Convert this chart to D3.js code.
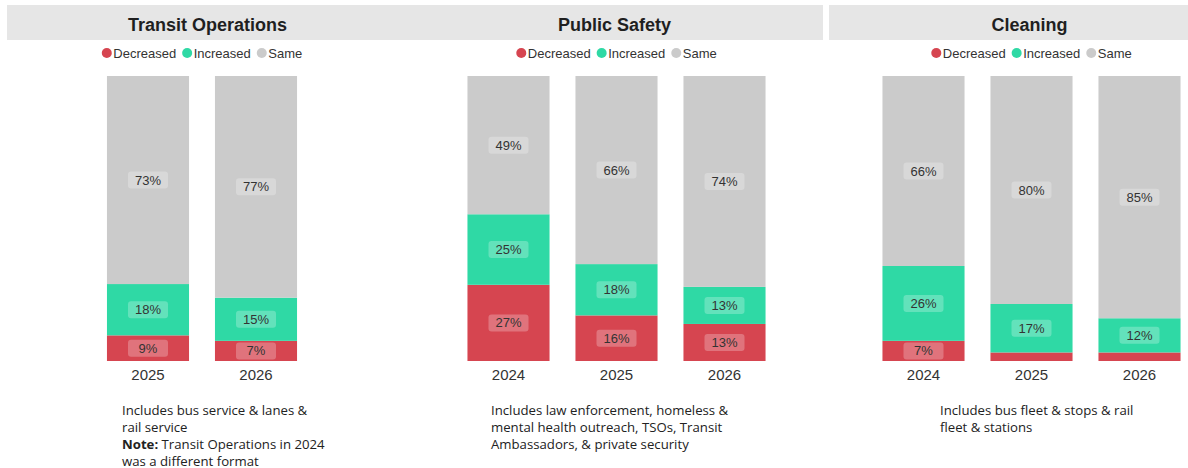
<!DOCTYPE html>
<html>
<head>
<meta charset="utf-8">
<script src="https://cdn.jsdelivr.net/npm/d3@7"></script>
<style>
  html, body { margin: 0; padding: 0; background: #fff; }
  svg { display: block; }
</style>
</head>
<body>
<div id="chart"></div>
<script>
// series / categories
const seriesKeys = ["Decreased", "Increased", "Same"];
const panelTitles = ["Transit Operations", "Public Safety", "Cleaning"];

const transitYears = ["2025", "2026"];
const transitDecreased = [9, 7];
const transitIncreased = [18, 15];
const transitSame = [73, 77];

const safetyYears = ["2024", "2025", "2026"];
const safetyDecreased = [27, 16, 13];
const safetyIncreased = [25, 18, 13];
const safetySame = [49, 66, 74];

const cleaningYears = ["2024", "2025", "2026"];
const cleaningDecreased = [7, 3, 3];
const cleaningIncreased = [26, 17, 12];
const cleaningSame = [66, 80, 85];

const footnotes = [
  [[["Includes bus service & lanes &", false]], [["rail service", false]],
   [["Note:", true], [" Transit Operations in 2024", false]], [["was a different format", false]]],
  [[["Includes law enforcement, homeless &", false]], [["mental health outreach, TSOs, Transit", false]],
   [["Ambassadors, & private security", false]]],
  [[["Includes bus fleet & stops & rail", false]], [["fleet & stations", false]]]
];

// layout
const width = 1188, height = 468;
const colors = { Decreased: "#d64550", Increased: "#2fd9a5", Same: "#cbcbcb" };
const panelLeft = [7, 414, 829];
const panelWidth = 409;
const plotCenter = [202, 616.5, 1031.5];
const noteOffset = [115, 77, 111];
const barTop = 76, barBottom = 361, step = 108;

function rows(years, dec, inc, same) {
  return years.map((y, i) => ({ year: y, Decreased: dec[i], Increased: inc[i], Same: same[i] }));
}
const panels = [
  rows(transitYears, transitDecreased, transitIncreased, transitSame),
  rows(safetyYears, safetyDecreased, safetyIncreased, safetySame),
  rows(cleaningYears, cleaningDecreased, cleaningIncreased, cleaningSame)
];

const svg = d3.select("#chart").append("svg")
  .attr("width", width)
  .attr("height", height)
  .style("font-family", "'Liberation Sans', Arial, sans-serif");

const stack = d3.stack().keys(seriesKeys).offset(d3.stackOffsetExpand);
const y = d3.scaleLinear().domain([0, 1]).range([barBottom, barTop]);

panels.forEach((data, p) => {
  const left = panelLeft[p];
  const cx = plotCenter[p];
  const g = svg.append("g");

  // header
  g.append("rect")
    .attr("x", left).attr("y", 5)
    .attr("width", panelWidth).attr("height", 35)
    .attr("fill", "#e6e6e6");
  g.append("text")
    .attr("x", left + panelWidth / 2 - 4).attr("y", 30.5)
    .attr("text-anchor", "middle")
    .attr("font-size", 18).attr("font-weight", 700)
    .attr("fill", "#1f1f1f")
    .text(panelTitles[p]);

  // legend
  const legend = g.append("g");
  let lx = 0;
  seriesKeys.forEach((k) => {
    const item = legend.append("g").attr("transform", `translate(${lx},0)`);
    item.append("circle").attr("cx", 5).attr("cy", 0).attr("r", 5).attr("fill", colors[k]);
    const t = item.append("text")
      .attr("x", 11.5).attr("y", 4.5)
      .attr("font-size", 13).attr("fill", "#333")
      .text(k);
    lx += 11.5 + t.node().getComputedTextLength() + 6;
  });
  legend.attr("transform", `translate(${cx - (lx - 6) / 2},53)`);

  // bars
  const x = d3.scaleBand()
    .domain(data.map((d) => d.year))
    .range([cx - data.length * step / 2, cx + data.length * step / 2])
    .paddingInner(0.24)
    .paddingOuter(0.12);

  const series = stack(data);
  series.forEach((s) => {
    const key = s.key;
    const segs = g.append("g").selectAll("g")
      .data(s)
      .join("g");
    segs.append("rect")
      .attr("x", (d) => x(d.data.year))
      .attr("y", (d) => y(d[1]))
      .attr("width", x.bandwidth())
      .attr("height", (d) => y(d[0]) - y(d[1]))
      .attr("fill", colors[key]);

    const labelled = segs.filter((d) => d.data[key] >= 5);
    labelled.append("rect")
      .attr("x", (d) => x(d.data.year) + x.bandwidth() / 2 - 20)
      .attr("y", (d) => (y(d[0]) + y(d[1])) / 2 - 8.5)
      .attr("width", 40).attr("height", 17)
      .attr("rx", 3)
      .attr("fill", "rgba(255,255,255,0.25)");
    labelled.append("text")
      .attr("x", (d) => x(d.data.year) + x.bandwidth() / 2)
      .attr("y", (d) => (y(d[0]) + y(d[1])) / 2 + 4.5)
      .attr("text-anchor", "middle")
      .attr("font-size", 13).attr("fill", "#333")
      .text((d) => d.data[key] + "%");
  });

  // year axis
  const axis = g.append("g")
    .attr("transform", `translate(0,${barBottom})`)
    .call(d3.axisBottom(x).tickSize(0).tickPadding(8));
  axis.select(".domain").remove();
  axis.selectAll("text")
    .attr("font-size", 15).attr("fill", "#333")
    .attr("font-family", "'Liberation Sans', Arial, sans-serif");

  // footnote
  const note = g.append("text")
    .attr("x", left + noteOffset[p]).attr("y", 414.5)
    .attr("font-family", "'Open Sans', sans-serif")
    .attr("font-size", 13.2).attr("fill", "#222");
  footnotes[p].forEach((line, i) => {
    line.forEach((part, j) => {
      const ts = note.append("tspan").text(part[0]).attr("font-weight", part[1] ? 700 : 400);
      if (j === 0) ts.attr("x", left + noteOffset[p]).attr("dy", i === 0 ? 0 : 17);
    });
  });
});
</script>
</body>
</html>
